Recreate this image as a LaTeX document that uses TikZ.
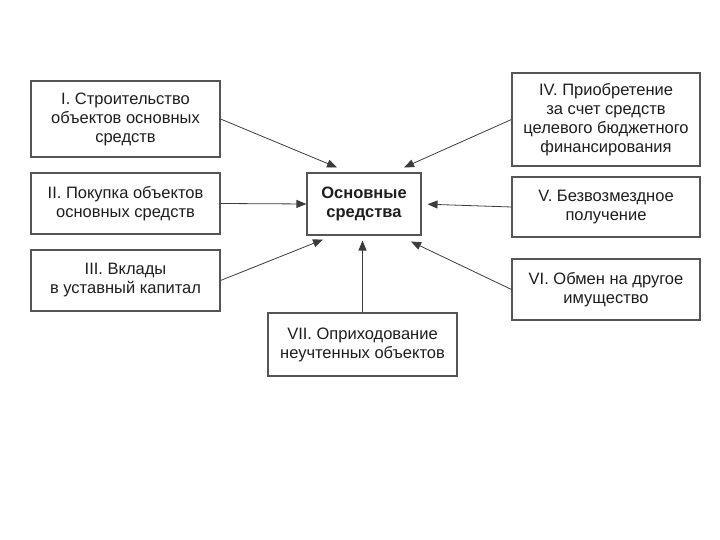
\documentclass[tikz,border=0pt]{standalone}
\usepackage{fontspec}
\setmainfont{Liberation Sans}
\usepackage{tikz}
\usetikzlibrary{arrows.meta, positioning, calc}
\definecolor{framecolor}{RGB}{85,85,85}
\definecolor{linkcolor}{RGB}{60,60,60}
\definecolor{textcolor}{RGB}{30,30,30}

\begin{document}
\begin{tikzpicture}[
    x=1pt, y=1pt,
    source/.style={draw=framecolor, line width=1.1pt, fill=white, text=textcolor, minimum width=189pt, minimum height=#1, inner sep=1pt, font=\fontsize{16.5}{19}\selectfont, align=center},
    source/.default=61pt,
    link/.style={draw=linkcolor, line width=0.8pt, -{Triangle[length=10pt,width=8pt]}}
]
    \useasboundingbox (0,0) rectangle (720,540);

    % Central node
    \node[source=62pt, minimum width=114pt, font=\fontsize{16.5}{19.5}\selectfont\bfseries] (core) at (364,336) {Основные\\средства};

    % Sources on the left
    \node[source=76pt] (build) at (125.5,421) {I. Строительство\\объектов основных\\средств};
    \node[source] (buy) at (125.5,336.5) {II. Покупка объектов\\основных средств};
    \node[source] (share) at (125.5,259.5) {III. Вклады\\в уставный капитал};

    % Sources on the right
    \node[source=93pt, minimum width=188pt] (budget) at (606,420.5) {IV. Приобретение\\за счет средств\\целевого бюджетного\\финансирования};
    \node[source=60pt, minimum width=188pt] (gift) at (606,333) {V. Безвозмездное\\получение};
    \node[source, minimum width=188pt] (swap) at (606,250.5) {VI. Обмен на другое\\имущество};

    % Source at the bottom
    \node[source=63pt] (found) at (362.5,195.5) {VII. Оприходование\\неучтенных объектов};

    % Arrows into the central node
    \draw[link] (build.east) -- ([xshift=-27pt,yshift=5pt]core.north);
    \draw[link] (budget.west) -- ([xshift=40pt,yshift=5pt]core.north);
    \draw[link] (buy.east) -- (core.west);
    \draw[link, shorten >=6pt] (gift.west) -- (core.east);
    \draw[link] (share.east) -- ([xshift=-41pt,yshift=-4pt]core.south);
    \draw[link] (swap.west) -- ([xshift=47pt,yshift=-6pt]core.south);
    \draw[link, shorten >=5pt] (found.north) -- (found.north |- core.south);
\end{tikzpicture}
\end{document}
